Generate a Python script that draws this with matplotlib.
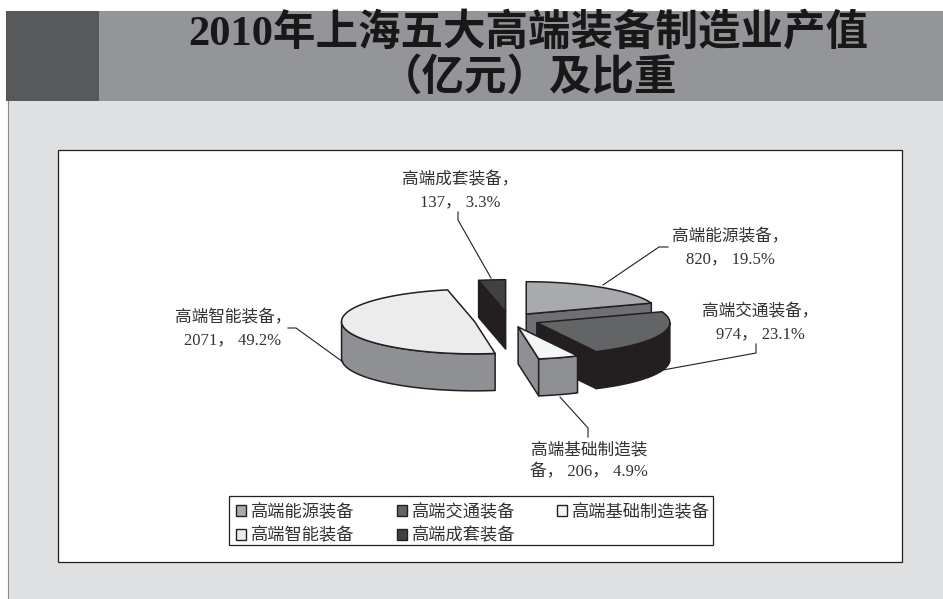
import numpy as np
import matplotlib
matplotlib.use("Agg")
import matplotlib.pyplot as plt
from matplotlib.patches import Polygon, Rectangle, Patch

FONT = ['Liberation Serif', 'Noto Sans CJK SC', 'DejaVu Sans']
plt.rcParams['font.family'] = FONT

# Output values in 100 million yuan
categories = ['高端能源装备', '高端交通装备', '高端基础制造装备', '高端智能装备', '高端成套装备']
values = [820, 974, 206, 2071, 137]

top_colors = ['#a9aaad', '#636466', '#f4f5f5', '#ececed', '#414042']
side_colors = ['#6f7073', '#231f20', '#8f9093', '#8f9093', '#231f20']
explode = [30, 30, 30, 35, 33]
draw_order = [0, 4, 3, 1, 2]

label_lines = ['高端能源装备，', '高端交通装备，', '高端基础制造装', '高端智能装备，', '高端成套装备，']
label_pos = [(730, 248), (760, 323.5), (589, 461), (233, 329), (460, 191)]
leaders = [[(603, 285), (659, 247), (668, 247)],
           [(663, 370), (756, 353), (756, 344)],
           [(560, 397), (588, 428), (588, 437)],
           [(343, 362), (296, 328), (288, 328)],
           [(491, 278), (458, 220), (458, 212)]]

CENTER = (509.0, 320.0)
RADIUS = 133.0
TILT = 0.243
DEPTH = 37.0
EDGE = '#231f20'

fig = plt.figure(figsize=(9.43, 5.99), dpi=100, facecolor='white')
ax = fig.add_axes([0, 0, 1, 1])
ax.set_xlim(0, 943)
ax.set_ylim(599, 0)
ax.axis('off')

# Page furniture: header band, grey panel and white chart frame
ax.add_patch(Rectangle((8, 101), 935, 498, fc='#dfe0e2', ec='none', zorder=0))
ax.plot([8, 8], [101, 599], color='#8a8b8d', lw=0.8, zorder=0.5)
ax.add_patch(Rectangle((6, 11), 937, 90, fc='#939598', ec='none', zorder=1))
ax.add_patch(Rectangle((6, 11), 93, 90, fc='#58595b', ec='none', zorder=1))
ax.add_patch(Rectangle((58, 150), 844, 412, fc='white', ec='#231f20', lw=0.9, zorder=1))

ax.text(528, 33, '2010年上海五大高端装备制造业产值', ha='center', va='center',
        fontsize=30.6, fontweight='bold', color='#1a1718', zorder=2)
ax.text(529, 78, '（亿元）及比重', ha='center', va='center',
        fontsize=30.6, fontweight='bold', color='#1a1718', zorder=2)


def rim(apex, deg, drop=0.0):
    """Screen position of the rim at a clockwise-from-north angle."""
    t = np.radians(deg)
    return apex[0] + RADIUS * np.sin(t), apex[1] - RADIUS * TILT * np.cos(t) + drop


def face(points, color, z):
    ax.add_patch(Polygon(points, closed=True, fc=color, ec=EDGE, lw=1.1,
                         joinstyle='round', zorder=z))


total = sum(values)
shares = np.array(values) / total
edges = np.concatenate([[0], np.cumsum(shares) * 360])

for rank, i in enumerate(draw_order):
    a, b = edges[i], edges[i + 1]
    mid = np.radians((a + b) / 2)
    apex = (CENTER[0] + explode[i] * np.sin(mid), CENTER[1] - explode[i] * TILT * np.cos(mid))
    z = 3 + rank
    low = (apex[0], apex[1] + DEPTH)

    # Cut faces turned towards the viewer
    if np.cos(np.radians(a - 90)) < -1e-6:
        face([apex, rim(apex, a), rim(apex, a, DEPTH), low], side_colors[i], z)
    if np.cos(np.radians(b + 90)) < -1e-6:
        face([apex, rim(apex, b), rim(apex, b, DEPTH), low], side_colors[i], z)

    # Outer wall on the near half of the rim
    s, e = max(a, 90), min(b, 270)
    if e > s:
        arc = np.linspace(s, e, 60)
        wall = [rim(apex, d) for d in arc] + [rim(apex, d, DEPTH) for d in arc[::-1]]
        face(wall, side_colors[i], z)

    # Top surface
    arc = np.linspace(a, b, 120)
    face([apex] + [rim(apex, d) for d in arc], top_colors[i], z + 0.5)

# Data labels and leader lines
for i, (x, y) in enumerate(label_pos):
    pct = f'{shares[i] * 100:.1f}%'
    if i == 2:
        second = f'备， {values[i]}， {pct}'
    else:
        second = f'{values[i]}， {pct}'
    ax.text(x, y - 11, label_lines[i], ha='center', va='center', fontsize=12,
            color='#333132', zorder=20)
    ax.text(x, y + 11, second, ha='center', va='center', fontsize=12,
            color='#333132', zorder=20)
    px, py = zip(*leaders[i])
    ax.plot(px, py, color='#231f20', lw=0.8, zorder=19)

# Legend box, with entries listed column by column so they read across the rows
ax.add_patch(Rectangle((229, 496), 484, 49, fc='white', ec='#231f20', lw=0.9, zorder=24))
legend_order = [0, 3, 1, 4, 2]
handles = [Patch(fc=top_colors[i], ec=EDGE, lw=1.0, label=categories[i]) for i in legend_order]
leg = ax.legend(handles=handles, ncol=3, loc='upper left',
                bbox_to_anchor=(229, 497), bbox_transform=ax.transData,
                borderaxespad=0, frameon=False, fontsize=12.4,
                handlelength=0.58, handleheight=0.58, handletextpad=0.3,
                columnspacing=2.42, labelspacing=0.42, borderpad=0.42,
                labelcolor='#333132')
leg.set_zorder(25)

fig.savefig('out.png', dpi=100, facecolor='white')
